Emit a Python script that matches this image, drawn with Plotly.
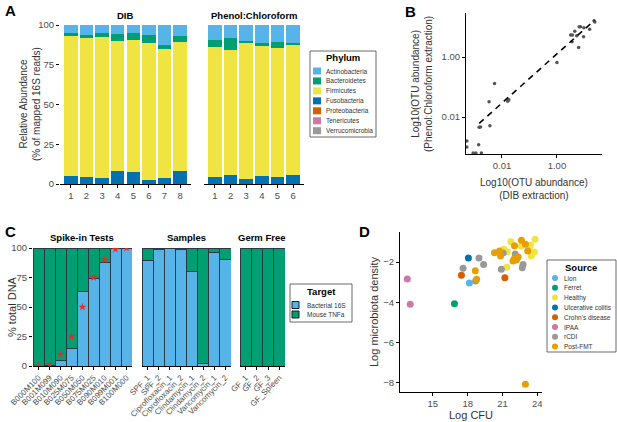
import plotly.graph_objects as go

W, H = 617, 422

# ---- panel A: relative abundance per phylum
phyla = ["Verrucomicrobia", "Tenericutes", "Proteobacteria", "Fusobacteria",
         "Firmicutes", "Bacteroidetes", "Actinobacteria"]
phylum_colors = ["#999999", "#CC79A7", "#D55E00", "#0072B2",
                 "#F0E442", "#009E73", "#56B4E9"]
dib_samples = ["1", "2", "3", "4", "5", "6", "7", "8"]
dib_fuso = [5.0, 4.5, 4.0, 8.0, 7.5, 2.5, 3.5, 8.0]
dib_firm = [88.0, 87.5, 88.5, 82.0, 83.0, 86.0, 81.5, 81.0]
dib_bact = [2.0, 2.0, 2.5, 4.5, 4.5, 5.0, 2.5, 4.0]
dib_other = [0.0, 0.0, 0.0, 0.0, 0.0, 0.0, 0.0, 0.0]
pc_samples = ["1", "2", "3", "4", "5", "6"]
pc_fuso = [4.5, 5.5, 3.0, 5.0, 4.5, 5.5]
pc_firm = [81.5, 78.5, 85.5, 82.0, 81.0, 82.0]
pc_bact = [4.5, 8.0, 1.5, 1.5, 4.0, 1.0]
pc_other = [0.0, 0.0, 0.0, 0.0, 0.0, 0.0]

# ---- panel B: OTU abundance, log10 values
otu_dib_log = [-2.83, -2.78, -2.44, -2.47, -2.27, -2.85, -1.79, -1.75, 0.0, 0.55,
               0.5, 0.56, 0.65, 0.72, 0.79, 0.81, 0.86, 0.98, 0.97, 1.19, 1.35, 1.38,
               -3.05, -2.95, -2.75, -3.28, -3.28]
otu_pc_log = [-2.34, -2.33, -2.29, -1.49, -0.88, -2.92, -1.47, -1.42, -0.18, 0.51,
              0.74, 0.74, 0.86, 0.71, 0.32, 1.01, 1.01, 0.98, 0.68, 0.93, 1.21, 1.17,
              -3.2, -3.2, -3.2, -2.8, -3.0]
fit_x_log = [-2.83, 1.37]
fit_y_log = [-2.21, 1.23]

# ---- panel C: % total DNA
spike_names = ["B000M100", "B001M099", "B010M090", "B025M075", "B050M050",
               "B075M025", "B090M010", "B099M001", "B100M000"]
spike_bacterial = [0.0, 0.3, 4.5, 15.0, 63.0, 74.0, 88.0, 99.5, 100.0]
spike_expected = [0, 1, 10, 25, 50, 75, 90, 99, 100]
sample_names = ["SPF_1", "SPF_2", "Ciprofloxacin_1", "Ciprofloxacin_2",
                "Clindamycin_1", "Clindamycin_2", "Vancomycin_1", "Vancomycin_2"]
sample_bacterial = [89.0, 99.0, 100.0, 99.0, 80.0, 2.0, 96.5, 90.0]
gf_names = ["GF_1", "GF_2", "GF_3", "GF_Spleen"]
gf_bacterial = [0.0, 0.0, 0.0, 0.0]
targets = ["Bacterial 16S", "Mouse TNFa"]
target_colors = ["#56B4E9", "#009E73"]

# ---- panel D: log CFU vs log microbiota density
sources = ["Lion", "Ferret", "Healthy", "Ulcerative colitis", "Crohn's disease",
           "IPAA", "rCDI", "Post-FMT"]
source_colors = ["#56B4E9", "#009E73", "#F0E442", "#0072B2", "#D55E00",
                 "#CC79A7", "#999999", "#E69F00"]
cfu = {
    "Lion": [18.14],
    "Ferret": [16.86],
    "Healthy": [21.1, 21.37, 21.71, 21.4, 22.6, 23.4, 23.3, 23.57, 23.48, 23.74, 23.8],
    "Ulcerative colitis": [18.06],
    "Crohn's disease": [17.46, 21.2],
    "IPAA": [12.8, 13.05],
    "rCDI": [17.6, 18.97, 19.37, 18.68, 21.06, 20.9, 22.09, 22.77, 22.7],
    "Post-FMT": [18.66, 18.77, 20.31, 20.74, 20.83, 22.03, 22.63, 22.97, 23.17,
                 21.9, 22.0, 22.2, 22.35, 22.97],
}
density = {
    "Lion": [-3.04],
    "Ferret": [-4.07],
    "Healthy": [-1.37, -2.26, -0.99, -1.49, -1.2, -1.16, -1.36, -1.55, -1.7, -1.5, -0.87],
    "Ulcerative colitis": [-1.8],
    "Crohn's disease": [-2.66, -2.78],
    "IPAA": [-2.84, -4.1],
    "rCDI": [-2.31, -1.8, -2.12, -2.94, -1.55, -2.36, -1.6, -2.12, -2.28],
    "Post-FMT": [-2.43, -2.86, -1.54, -1.45, -1.7, -1.19, -0.92, -1.12, -1.45,
                 -1.95, -1.85, -1.9, -1.75, -8.07],
}


def fx(px):
    return px / W


def fy(py):
    return 1 - py / H


FONT = "Arial, Liberation Sans, sans-serif"
TICKC = "#4d4d4d"

fig = go.Figure()

# A bars
dib_vals = {"Verrucomicrobia": dib_other, "Tenericutes": dib_other, "Proteobacteria": dib_other,
            "Fusobacteria": dib_fuso, "Firmicutes": dib_firm, "Bacteroidetes": dib_bact,
            "Actinobacteria": [100 - a - b - c for a, b, c in zip(dib_fuso, dib_firm, dib_bact)]}
pc_vals = {"Verrucomicrobia": pc_other, "Tenericutes": pc_other, "Proteobacteria": pc_other,
           "Fusobacteria": pc_fuso, "Firmicutes": pc_firm, "Bacteroidetes": pc_bact,
           "Actinobacteria": [100 - a - b - c for a, b, c in zip(pc_fuso, pc_firm, pc_bact)]}
for name, col in zip(phyla, phylum_colors):
    fig.add_trace(go.Bar(x=dib_samples, y=dib_vals[name], marker_color=col, width=0.86,
                         marker_line_width=0, xaxis="x", yaxis="y", showlegend=False))
    fig.add_trace(go.Bar(x=pc_samples, y=pc_vals[name], marker_color=col, width=0.86,
                         marker_line_width=0, xaxis="x2", yaxis="y2", showlegend=False))

# B scatter
fig.add_trace(go.Scatter(x=[10 ** v for v in otu_dib_log], y=[10 ** v for v in otu_pc_log],
                         mode="markers", marker=dict(size=3.5, color="#555555"),
                         xaxis="x3", yaxis="y3", showlegend=False))
fig.add_trace(go.Scatter(x=[10 ** v for v in fit_x_log], y=[10 ** v for v in fit_y_log],
                         mode="lines", line=dict(color="black", width=1.6, dash="6px,5px"),
                         xaxis="x3", yaxis="y3", showlegend=False))

# C bars
groups = [(spike_names, spike_bacterial, "x4", "y4"),
          (sample_names, sample_bacterial, "x5", "y5"),
          (gf_names, gf_bacterial, "x6", "y6")]
for names, bact, xa, ya in groups:
    mouse = [100 - b for b in bact]
    for vals, col in zip([bact, mouse], target_colors):
        fig.add_trace(go.Bar(x=names, y=vals, marker_color=col, width=1.0,
                             marker_line=dict(color="#2b3a40", width=1),
                             xaxis=xa, yaxis=ya, showlegend=False))
fig.add_trace(go.Scatter(x=spike_names, y=spike_expected, mode="markers",
                         marker=dict(symbol="star", size=6, color="#e8282b"),
                         xaxis="x4", yaxis="y4", showlegend=False))

# D scatter
for name, col in zip(sources, source_colors):
    fig.add_trace(go.Scatter(x=cfu[name], y=density[name], mode="markers",
                             marker=dict(size=7, color=col),
                             xaxis="x7", yaxis="y7", showlegend=False))

base = dict(showgrid=False, zeroline=False, ticks="outside", ticklen=3, tickcolor="black",
            automargin=False, tickfont=dict(size=9.5, color=TICKC, family=FONT))
rot = dict(tickangle=-45, tickfont=dict(size=8, color=TICKC, family=FONT),
           showline=True, linecolor="black")
a_y = [fy(184), fy(25)]
c_y = [fy(366), fy(248)]
fig.update_layout(
    xaxis=dict(base, domain=[fx(60), fx(191)], anchor="y", range=[-0.7, 7.7],
               showline=True, linecolor="black"),
    yaxis=dict(base, domain=a_y, anchor="x", range=[0, 100], tickvals=[0, 25, 50, 75, 100]),
    xaxis2=dict(base, domain=[fx(204), fx(304)], anchor="y2", range=[-0.7, 5.7],
                showline=True, linecolor="black"),
    yaxis2=dict(base, domain=a_y, anchor="x2", range=[0, 100], showticklabels=False, ticks=""),
    xaxis3=dict(base, type="log", domain=[fx(466), fx(602)], anchor="y3", range=[-3.31, 1.64],
                tickvals=[0.01, 1], ticktext=["0.01", "1.00"], showline=True, linecolor="black"),
    yaxis3=dict(base, type="log", domain=[fy(154), fy(13)], anchor="x3", range=[-3.23, 1.47],
                tickvals=[0.01, 1], ticktext=["0.01", "1.00"], showline=True, linecolor="black"),
    xaxis4=dict(base, **rot, domain=[fx(33), fx(132)], anchor="y4", range=[-0.5, 8.5]),
    yaxis4=dict(base, domain=c_y, anchor="x4", range=[0, 100], tickvals=[0, 25, 50, 75, 100]),
    xaxis5=dict(base, **rot, domain=[fx(142), fx(231)], anchor="y5", range=[-0.5, 7.5]),
    yaxis5=dict(base, domain=c_y, anchor="x5", range=[0, 100], showticklabels=False, ticks=""),
    xaxis6=dict(base, **rot, domain=[fx(240), fx(285)], anchor="y6", range=[-0.5, 3.5]),
    yaxis6=dict(base, domain=c_y, anchor="x6", range=[0, 100], showticklabels=False, ticks=""),
    xaxis7=dict(base, domain=[fx(400), fx(542)], anchor="y7", range=[12.17, 24.4],
                tickvals=[15, 18, 21, 24], showline=True, linecolor="black"),
    yaxis7=dict(base, domain=[fy(392), fy(232)], anchor="x7", range=[-8.45, -0.51],
                tickvals=[-2, -4, -6, -8], showline=True, linecolor="black"),
    barmode="stack",
    showlegend=False,
    width=W, height=H,
    margin=dict(l=0, r=0, t=0, b=0, pad=0, autoexpand=False),
    paper_bgcolor="white", plot_bgcolor="white",
    font=dict(family=FONT, color="black"),
)

annotations = []
shapes = []


def text(px, py, s, size=10, bold=False, angle=0, xanchor="center", color="black"):
    if bold:
        s = "<b>" + s + "</b>"
    annotations.append(dict(x=fx(px), y=fy(py), xref="paper", yref="paper", text=s,
                            showarrow=False, textangle=angle, xanchor=xanchor,
                            yanchor="middle", font=dict(size=size, color=color, family=FONT)))


# panel letters and titles
text(3, 11, "A", 15, True, xanchor="left")
text(403, 12, "B", 15, True, xanchor="left")
text(3, 231, "C", 15, True, xanchor="left")
text(357, 231, "D", 15, True, xanchor="left")
text(125, 16, "DIB", 9.5, True)
text(254, 16, "Phenol:Chloroform", 9.5, True)
text(30, 104, "Relative Abundance<br>(% of mapped 16S reads)", 10, angle=-90, color="#333")
text(534, 189, "Log10(OTU abundance)<br>(DIB extraction)", 10, color="#333")
text(422, 84, "Log10(OTU abundance)<br>(Phenol:Chloroform extraction)", 10, angle=-90, color="#333")
text(82, 237, "Spike-in Tests", 9.5, True)
text(186, 237, "Samples", 9.5, True)
text(262, 237, "Germ Free", 9.5, True)
text(12, 307, "% total DNA", 11, angle=-90, color="#333")
text(471, 415, "Log CFU", 11, color="#333")
text(374, 312, "Log microbiota density", 11, angle=-90, color="#333")


def legend_box(x0, y0, x1, y1, title, title_y, cx):
    shapes.append(dict(type="rect", xref="paper", yref="paper", x0=fx(x0), x1=fx(x1),
                       y0=fy(y1), y1=fy(y0), line=dict(color="#444", width=0.8),
                       fillcolor="white", layer="below"))
    text(cx, title_y, title, 9.5, True)


# Phylum legend (top to bottom = reverse stack order)
legend_box(310, 51, 376, 137, "Phylum", 57, 343)
for i, (name, col) in enumerate(zip(phyla[::-1], phylum_colors[::-1])):
    yy = 71 + i * 9.95
    shapes.append(dict(type="rect", xref="paper", yref="paper", x0=fx(313), x1=fx(321),
                       y0=fy(yy + 3.5), y1=fy(yy - 3.5), line=dict(width=0), fillcolor=col))
    text(324, yy, name, 6.5, xanchor="left", color="#333")

# Target legend
legend_box(290, 284, 352, 322, "Target", 291, 321)
for i, (name, col) in enumerate(zip(targets, target_colors)):
    yy = 305 + i * 9.5
    shapes.append(dict(type="rect", xref="paper", yref="paper", x0=fx(292), x1=fx(299),
                       y0=fy(yy + 3.5), y1=fy(yy - 3.5),
                       line=dict(color="#1a1a1a", width=1), fillcolor=col))
    text(305, yy, name, 6.5, xanchor="left", color="#333")

# Source legend
legend_box(547, 260, 616, 352, "Source", 267, 581)
for i, (name, col) in enumerate(zip(sources, source_colors)):
    yy = 278 + i * 9.8
    shapes.append(dict(type="circle", xref="paper", yref="paper", x0=fx(552), x1=fx(558),
                       y0=fy(yy + 3), y1=fy(yy - 3), line=dict(width=0), fillcolor=col))
    text(562, yy, name, 6.5, xanchor="left", color="#333")

fig.update_layout(annotations=annotations, shapes=shapes)
# drop the browser's default 8px body margin so the 617x422 figure fills the window
fig.write_html("out.html", config={"displayModeBar": False},
               post_script="document.body.style.margin='0';")
